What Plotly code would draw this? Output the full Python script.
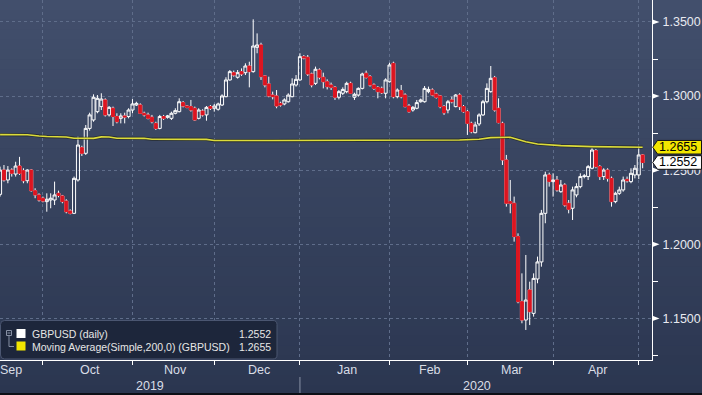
import pandas as pd
import plotly.graph_objects as go

# ---------------- data ----------------
first_day = "2019-09-13"
last_day = "2020-05-01"
dates = pd.bdate_range(first_day, last_day)   # Bloomberg FX: every weekday

open_px = [
    # Sep
    1.2337, 1.2501, 1.2434, 1.2501, 1.2474, 1.2528, 1.2497, 1.2429, 1.2501, 1.2362, 1.2333, 1.2311,
    # Oct
    1.2288, 1.2299, 1.2299, 1.2344, 1.2326, 1.2292, 1.2225, 1.2209, 1.2434, 1.2652, 1.2614, 1.2782,
    1.2839, 1.2895, 1.2929, 1.2974, 1.2873, 1.2918, 1.2862, 1.2850, 1.2866, 1.2862, 1.2906,
    # Nov
    1.2940, 1.2940, 1.2884, 1.2873, 1.2857, 1.2816, 1.2782, 1.2862, 1.2857, 1.2850, 1.2884, 1.2895,
    1.2956, 1.2933, 1.2929, 1.2918, 1.2850, 1.2899, 1.2873, 1.2929, 1.2918,
    # Dec
    1.2911, 1.2940, 1.2996, 1.3109, 1.3158, 1.3127, 1.3165, 1.3158, 1.3203, 1.3165, 1.3329, 1.3345,
    1.3136, 1.3082, 1.3007, 1.3001, 1.2951, 1.2947, 1.2962, 1.2996, 1.3075, 1.3109,
    # Jan
    1.3266, 1.3262, 1.3149, 1.3086, 1.3176, 1.3127, 1.3097, 1.3075, 1.3059, 1.2992, 1.3019, 1.3030,
    1.3086, 1.2992, 1.3007, 1.3052, 1.3154, 1.3131, 1.3075, 1.3059, 1.3052, 1.3019, 1.3097,
    # Feb
    1.3221, 1.2996, 1.3037, 1.3007, 1.2933, 1.2906, 1.2918, 1.2962, 1.2962, 1.3030, 1.3041, 1.3014,
    1.3001, 1.2929, 1.2906, 1.2974, 1.2929, 1.3007, 1.2929, 1.2895,
    # Mar
    1.2816, 1.2753, 1.2812, 1.2873, 1.2962, 1.3030, 1.3124, 1.2918, 1.2816, 1.2569, 1.2288, 1.2277,
    1.2052, 1.1613, 1.1489, 1.1692, 1.1534, 1.1766, 1.1881, 1.2209, 1.2468, 1.2423,
    # Apr
    1.2434, 1.2355, 1.2400, 1.2277, 1.2243, 1.2333, 1.2389, 1.2457, 1.2457, 1.2513, 1.2632, 1.2524,
    1.2457, 1.2501, 1.2445, 1.2288, 1.2344, 1.2367, 1.2438, 1.2423, 1.2468, 1.2468,
    # May
    1.2603,
]
high_px = [
    1.2524, 1.2535, 1.2528, 1.2513, 1.2557, 1.2590, 1.2513, 1.2506, 1.2506, 1.2378, 1.2344, 1.2322,
    1.2344, 1.2344, 1.2423, 1.2362, 1.2333, 1.2304, 1.2236, 1.2457, 1.2726, 1.2665, 1.2805, 1.2888,
    1.3012, 1.3007, 1.3019, 1.2985, 1.2933, 1.2929, 1.2884, 1.2884, 1.2888, 1.2918, 1.2980,
    1.2962, 1.2951, 1.2895, 1.2888, 1.2873, 1.2827, 1.2873, 1.2873, 1.2873, 1.2895, 1.2918, 1.2985,
    1.2967, 1.2940, 1.2974, 1.2929, 1.2918, 1.2911, 1.2933, 1.2940, 1.2947,
    1.2956, 1.3012, 1.3127, 1.3176, 1.3172, 1.3176, 1.3187, 1.3221, 1.3232, 1.3518, 1.3423, 1.3360,
    1.3142, 1.3131, 1.3030, 1.3041, 1.2962, 1.2985, 1.3019, 1.3120, 1.3142, 1.3289,
    1.3277, 1.3277, 1.3158, 1.3199, 1.3187, 1.3158, 1.3113, 1.3091, 1.3068, 1.3041, 1.3059, 1.3097,
    1.3097, 1.3023, 1.3059, 1.3158, 1.3172, 1.3142, 1.3086, 1.3068, 1.3064, 1.3120, 1.3225,
    1.3232, 1.3052, 1.3075, 1.3019, 1.2947, 1.2933, 1.2974, 1.2983, 1.3068, 1.3064, 1.3052, 1.3023,
    1.3007, 1.2940, 1.2974, 1.2996, 1.3014, 1.3019, 1.2940, 1.2906,
    1.2827, 1.2827, 1.2884, 1.2974, 1.3086, 1.3203, 1.3136, 1.2985, 1.2827, 1.2603, 1.2434, 1.2322,
    1.2074, 1.1804, 1.1928, 1.1748, 1.1804, 1.1917, 1.2232, 1.2490, 1.2483, 1.2479,
    1.2461, 1.2434, 1.2412, 1.2299, 1.2389, 1.2412, 1.2479, 1.2474, 1.2535, 1.2648, 1.2643, 1.2535,
    1.2513, 1.2513, 1.2457, 1.2355, 1.2389, 1.2457, 1.2457, 1.2513, 1.2535, 1.2659,
    1.2609,
]
low_px = [
    1.2322, 1.2423, 1.2412, 1.2457, 1.2457, 1.2468, 1.2412, 1.2412, 1.2355, 1.2311, 1.2288, 1.2283,
    1.2220, 1.2243, 1.2265, 1.2317, 1.2277, 1.2209, 1.2202, 1.2204, 1.2423, 1.2596, 1.2603, 1.2767,
    1.2827, 1.2884, 1.2906, 1.2862, 1.2862, 1.2798, 1.2816, 1.2816, 1.2816, 1.2850, 1.2884,
    1.2933, 1.2879, 1.2862, 1.2843, 1.2816, 1.2771, 1.2776, 1.2839, 1.2848, 1.2839, 1.2877, 1.2890,
    1.2924, 1.2918, 1.2895, 1.2834, 1.2843, 1.2862, 1.2834, 1.2906, 1.2895,
    1.2902, 1.2933, 1.2992, 1.3104, 1.3131, 1.3118, 1.3136, 1.3142, 1.3059, 1.3158, 1.3289, 1.3109,
    1.3059, 1.2992, 1.2978, 1.2918, 1.2929, 1.2938, 1.2956, 1.2992, 1.3064, 1.3104,
    1.3248, 1.3136, 1.3059, 1.3075, 1.3113, 1.3052, 1.3045, 1.3041, 1.2974, 1.2978, 1.3007, 1.3019,
    1.3014, 1.2974, 1.2996, 1.3045, 1.3118, 1.3064, 1.3041, 1.2985, 1.3014, 1.2985, 1.3091,
    1.2985, 1.2985, 1.2985, 1.2924, 1.2888, 1.2895, 1.2911, 1.2956, 1.2956, 1.3019, 1.3001, 1.2983,
    1.2918, 1.2873, 1.2884, 1.2951, 1.2924, 1.2906, 1.2888, 1.2738,
    1.2749, 1.2749, 1.2798, 1.2866, 1.2951, 1.3023, 1.2895, 1.2816, 1.2535, 1.2254, 1.2209, 1.2018,
    1.1602, 1.1467, 1.1422, 1.1455, 1.1512, 1.1737, 1.1849, 1.2142, 1.2389, 1.2322,
    1.2355, 1.2348, 1.2254, 1.2209, 1.2164, 1.2317, 1.2378, 1.2445, 1.2434, 1.2506, 1.2513, 1.2434,
    1.2434, 1.2423, 1.2254, 1.2277, 1.2333, 1.2355, 1.2416, 1.2412, 1.2445, 1.2440,
    1.2513,
]
close_px = [
    1.2501, 1.2434, 1.2501, 1.2479, 1.2528, 1.2479, 1.2429, 1.2501, 1.2362, 1.2333, 1.2299, 1.2292,
    1.2304, 1.2311, 1.2333, 1.2330, 1.2288, 1.2220, 1.2209, 1.2445, 1.2670, 1.2614, 1.2782, 1.2873,
    1.2992, 1.2985, 1.2980, 1.2873, 1.2924, 1.2862, 1.2827, 1.2866, 1.2859, 1.2906, 1.2947,
    1.2951, 1.2884, 1.2873, 1.2850, 1.2827, 1.2782, 1.2862, 1.2850, 1.2866, 1.2884, 1.2902, 1.2962,
    1.2933, 1.2924, 1.2906, 1.2839, 1.2906, 1.2873, 1.2924, 1.2918, 1.2933,
    1.2947, 1.3001, 1.3109, 1.3165, 1.3142, 1.3158, 1.3149, 1.3203, 1.3165, 1.3338, 1.3345, 1.3131,
    1.3075, 1.3001, 1.2996, 1.2933, 1.2940, 1.2974, 1.3007, 1.3082, 1.3113, 1.3266,
    1.3257, 1.3149, 1.3075, 1.3181, 1.3127, 1.3097, 1.3064, 1.3059, 1.2992, 1.3030, 1.3045, 1.3086,
    1.3019, 1.3012, 1.3052, 1.3149, 1.3127, 1.3075, 1.3052, 1.3030, 1.3023, 1.3109, 1.3210,
    1.2996, 1.3041, 1.2996, 1.2929, 1.2895, 1.2924, 1.2956, 1.2974, 1.3052, 1.3045, 1.3007, 1.2992,
    1.2929, 1.2888, 1.2962, 1.2962, 1.3007, 1.2929, 1.2895, 1.2816,
    1.2760, 1.2805, 1.2873, 1.2962, 1.3052, 1.3120, 1.2906, 1.2821, 1.2569, 1.2277, 1.2277, 1.2052,
    1.1613, 1.1489, 1.1624, 1.1545, 1.1770, 1.1881, 1.2209, 1.2468, 1.2423, 1.2434,
    1.2367, 1.2400, 1.2265, 1.2236, 1.2367, 1.2389, 1.2457, 1.2461, 1.2524, 1.2636, 1.2524, 1.2457,
    1.2501, 1.2445, 1.2288, 1.2344, 1.2367, 1.2434, 1.2429, 1.2479, 1.2513, 1.2603,
    1.2552,
]

ma_dates = ["2019-09-13", "2019-09-24", "2019-09-27", "2019-10-01", "2019-10-08", "2019-10-10",
            "2019-10-17", "2019-10-21", "2019-10-23", "2019-10-25", "2019-11-05", "2019-11-07",
            "2019-11-27", "2019-11-29", "2019-12-20", "2020-01-31", "2020-02-26", "2020-03-04",
            "2020-03-09", "2020-03-16", "2020-03-20", "2020-03-25", "2020-04-02", "2020-04-14",
            "2020-05-01"]
ma_vals = [1.2740, 1.2739, 1.2731, 1.2727, 1.2724, 1.2716,
           1.2715, 1.2725, 1.2724, 1.2716, 1.2715, 1.2709,
           1.2708, 1.2700, 1.2700, 1.2700, 1.2704, 1.2709,
           1.2720, 1.2722, 1.2692, 1.2677, 1.2666, 1.2659,
           1.2655]

month_ends = ["2019-09-30", "2019-10-31", "2019-11-29", "2019-12-31",
              "2020-01-31", "2020-02-28", "2020-03-31", "2020-04-30"]
month_names = ["Sep", "Oct", "Nov", "Dec", "Jan", "Feb", "Mar", "Apr"]
year_labels = ["2019", "2020"]
year_label_at = ["2019-11-06 12:00", "2020-03-03 12:00"]
year_split = "2019-12-31"
y_ticks = [1.15, 1.20, 1.25, 1.30, 1.35]
y_minor = [1.125, 1.175, 1.225, 1.275, 1.325]
last_px = 1.2552
last_ma = 1.2655
series_names = ["GBPUSD (daily)", "Moving Average(Simple,200,0) (GBPUSD)"]

# ---------------- styling / geometry ----------------
W, H = 702, 395
MR, MB = 50, 35
PW, PH = W - MR, H - MB
Y0, Y1 = 1.12193, 1.36484
X_RANGE = ["2019-09-12 23:34", "2020-05-05 09:36"]
FONT = "Liberation Sans, Arial, sans-serif"
RED = "#dc1520"
YEL = "#dcdc3a"
TAGYEL = "#f2e600"
GRID = "#5f6d8a"


def px_x(p):
    return p / PW


def px_y(p):
    return 1 - p / PH


def val_y(v):
    return (v - Y0) / (Y1 - Y0)


def path(points):
    out = []
    for cmd, *pts in points:
        s = cmd
        s += " ".join(f"{px_x(x):.5f},{y:.5f}" for x, y in pts)
        out.append(s)
    return " ".join(out) + " Z"


shapes = []
annotations = []

# background gradient
top_c, bot_c = (66, 79, 108), (43, 54, 80)
NB = 40
for k in range(NB):
    t = (k + 0.5) / NB
    col = tuple(round(top_c[j] + (bot_c[j] - top_c[j]) * t) for j in range(3))
    shapes.append(dict(type="rect", xref="paper", yref="paper", layer="below",
                       x0=px_x(0), x1=px_x(W), y0=px_y((k + 1) * H / NB + 0.6), y1=px_y(k * H / NB),
                       fillcolor="rgb(%d,%d,%d)" % col, line=dict(width=0)))
# black strip at the very bottom
shapes.append(dict(type="rect", xref="paper", yref="paper", layer="below",
                   x0=px_x(0), x1=px_x(W), y0=px_y(H), y1=px_y(393),
                   fillcolor="#0c0f16", line=dict(width=0)))

# candlesticks: white wicks / hollow bodies, then red bodies on top for falling days
fig = go.Figure()
fig.add_trace(go.Candlestick(
    x=dates, open=open_px, high=high_px, low=low_px, close=close_px,
    increasing=dict(line=dict(color="white", width=1), fillcolor="rgba(0,0,0,0)"),
    decreasing=dict(line=dict(color="white", width=1), fillcolor="rgba(0,0,0,0)"),
    whiskerwidth=0, showlegend=False, hoverinfo="skip"))
dn = [k for k in range(len(dates)) if close_px[k] < open_px[k]]
fig.add_trace(go.Candlestick(
    x=[dates[k] for k in dn], open=[open_px[k] for k in dn], close=[close_px[k] for k in dn],
    high=[open_px[k] for k in dn], low=[close_px[k] for k in dn],
    increasing=dict(line=dict(color=RED, width=1), fillcolor=RED),
    decreasing=dict(line=dict(color=RED, width=1), fillcolor=RED),
    whiskerwidth=0, showlegend=False, hoverinfo="skip"))
# moving average
fig.add_trace(go.Scatter(x=ma_dates, y=ma_vals, mode="lines",
                         line=dict(color="rgba(25,25,10,0.55)", width=3.2),
                         showlegend=False, hoverinfo="skip"))
fig.add_trace(go.Scatter(x=ma_dates, y=ma_vals, mode="lines",
                         line=dict(color=YEL, width=1.6),
                         showlegend=False, hoverinfo="skip"))

# month labels (centred in each month), year labels
for name in month_names:
    if name == "Sep":
        annotations.append(dict(text=name, xref="paper", yref="paper", x=0, xanchor="left", xshift=-2,
                                y=px_y(370.5), yanchor="middle", showarrow=False,
                                font=dict(family=FONT, size=12.5, color="#d9dde6")))
        continue
    md = [d for d in dates if d.strftime("%b") == name]
    n = len(md)
    mid = md[n // 2] if n % 2 else md[n // 2 - 1] + pd.Timedelta(hours=12)
    annotations.append(dict(text=name, xref="x", yref="paper", x=mid, y=px_y(370.5),
                            yanchor="middle", showarrow=False,
                            font=dict(family=FONT, size=12.5, color="#d9dde6")))
for lab, at in zip(year_labels, year_label_at):
    annotations.append(dict(text=lab, xref="x", yref="paper", x=at, y=px_y(386),
                            yanchor="middle", showarrow=False,
                            font=dict(family=FONT, size=12.5, color="#d9dde6")))
shapes.append(dict(type="line", xref="x", yref="paper", x0=year_split, x1=year_split,
                   y0=px_y(377), y1=px_y(393), line=dict(color="#8a93a6", width=1)))

# right-axis triangles at major ticks
for v in y_ticks:
    yc = val_y(v)
    hh = 2.6 / PH
    shapes.append(dict(type="path", xref="paper", yref="paper", layer="above",
                       path=f"M{px_x(652.5):.5f},{yc - hh:.5f} L{px_x(659.5):.5f},{yc:.5f} "
                            f"L{px_x(652.5):.5f},{yc + hh:.5f} Z",
                       fillcolor="white", line=dict(width=0)))

# price tags on the right axis
for v, fill in [(last_ma, TAGYEL), (last_px, "white")]:
    yc = val_y(v)
    hh = 6.8 / PH
    shapes.append(dict(type="path", xref="paper", yref="paper", layer="above",
                       path=path([("M", (652.7, yc)), ("L", (657.5, yc + hh)), ("L", (701.5, yc + hh)),
                                  ("L", (701.5, yc - hh)), ("L", (657.5, yc - hh))]),
                       fillcolor=fill, line=dict(color="#111111", width=1)))
    annotations.append(dict(text=f"{v:.4f}", xref="paper", yref="paper", x=px_x(677.5), y=yc,
                            xanchor="center", yanchor="middle", showarrow=False,
                            font=dict(family=FONT, size=12.5, color="black")))

# legend box
lb = [("M", (0.5, px_y(324.5))), ("Q", (0.5, px_y(320.5)), (4.5, px_y(320.5))),
      ("L", (273, px_y(320.5))), ("Q", (277, px_y(320.5)), (277, px_y(324.5))),
      ("L", (277, px_y(355))), ("Q", (277, px_y(359)), (273, px_y(359))),
      ("L", (4.5, px_y(359))), ("Q", (0.5, px_y(359)), (0.5, px_y(355)))]
shapes.append(dict(type="path", xref="paper", yref="paper", layer="above", path=path(lb),
                   fillcolor="#1d263b", line=dict(color="#4b5671", width=1)))
# tree icon
ICON = "#8790a4"
shapes.append(dict(type="rect", xref="paper", yref="paper", layer="above",
                   x0=px_x(6.5), x1=px_x(11.5), y0=px_y(335.5), y1=px_y(330.5),
                   line=dict(color=ICON, width=1), fillcolor="rgba(0,0,0,0)"))
shapes.append(dict(type="line", xref="paper", yref="paper", layer="above",
                   x0=px_x(7.5), x1=px_x(10.5), y0=px_y(333), y1=px_y(333), line=dict(color=ICON, width=1)))
shapes.append(dict(type="path", xref="paper", yref="paper", layer="above",
                   path=f"M{px_x(9):.5f},{px_y(335.5):.5f} L{px_x(9):.5f},{px_y(346.5):.5f} "
                        f"L{px_x(14):.5f},{px_y(346.5):.5f}",
                   line=dict(color=ICON, width=1)))
for (y0, y1), col in [((329, 338), "white"), ((341.5, 350.5), TAGYEL)]:
    shapes.append(dict(type="rect", xref="paper", yref="paper", layer="above",
                       x0=px_x(16.5), x1=px_x(25.5), y0=px_y(y1), y1=px_y(y0),
                       fillcolor=col, line=dict(width=0)))
for name, val, yy in [(series_names[0], last_px, 334), (series_names[1], last_ma, 346.5)]:
    annotations.append(dict(text=name, xref="paper", yref="paper", x=px_x(29.5), y=px_y(yy),
                            xanchor="left", yanchor="middle", showarrow=False,
                            font=dict(family=FONT, size=10.5, color="#e6e6e6")))
    annotations.append(dict(text=f"{val:.4f}", xref="paper", yref="paper", x=px_x(272.5), y=px_y(yy),
                            xanchor="right", yanchor="middle", showarrow=False,
                            font=dict(family=FONT, size=10.5, color="#e6e6e6")))

fig.update_layout(
    width=W, height=H, margin=dict(l=0, r=MR, t=0, b=MB, pad=0),
    paper_bgcolor="rgb(54,66,94)", plot_bgcolor="rgba(0,0,0,0)",
    showlegend=False, boxgap=0.22, boxgroupgap=0,
    shapes=shapes, annotations=annotations,
    xaxis=dict(type="date", range=X_RANGE, rangebreaks=[dict(bounds=["sat", "mon"])],
               rangeslider=dict(visible=False), tickmode="array", tickvals=month_ends,
               ticktext=[""] * len(month_ends), ticks="outside", ticklen=4, tickcolor="white",
               showgrid=True, gridcolor=GRID, griddash="3px,3px", gridwidth=1,
               showline=True, linecolor="white", linewidth=1, zeroline=False, fixedrange=True),
    yaxis=dict(side="right", range=[Y0, Y1], tickmode="array", tickvals=y_ticks,
               ticktext=[f"{v:.4f}" for v in y_ticks],
               ticks="outside", ticklen=7, tickcolor="rgba(0,0,0,0)",
               tickfont=dict(family=FONT, size=12.5, color="#e8eaf0"),
               minor=dict(tickmode="array", tickvals=y_minor, ticks="outside", ticklen=5,
                          tickcolor="white", showgrid=False),
               showgrid=True, gridcolor=GRID, griddash="3px,3px", gridwidth=1,
               showline=True, linecolor="white", linewidth=1, zeroline=False, fixedrange=True),
)

fig.write_html("out.html", config={"displayModeBar": False, "staticPlot": True},
               post_script="document.body.style.margin='0';document.body.style.overflow='hidden';")
